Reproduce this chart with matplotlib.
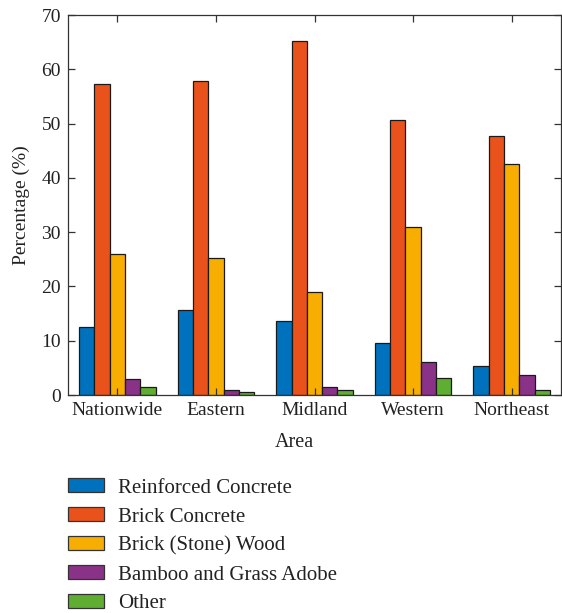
import matplotlib
matplotlib.use("Agg")
import matplotlib.pyplot as plt
import numpy as np
from matplotlib.patches import Patch

categories = ["Nationwide", "Eastern", "Midland", "Western", "Northeast"]
series_names = ["Reinforced Concrete", "Brick Concrete", "Brick (Stone) Wood",
                "Bamboo and Grass Adobe", "Other"]
reinforced_concrete = [12.6, 15.7, 13.6, 9.5, 5.3]
brick_concrete = [57.2, 57.9, 65.3, 50.6, 47.8]
brick_stone_wood = [26.0, 25.2, 18.9, 30.9, 42.5]
bamboo_grass_adobe = [2.9, 1.0, 1.5, 6.0, 3.6]
other = [1.5, 0.5, 0.9, 3.1, 0.9]
series = [reinforced_concrete, brick_concrete, brick_stone_wood, bamboo_grass_adobe, other]
colors = ["#0071BC", "#E9531B", "#F7AE00", "#8A3188", "#5FAE32"]

plt.rcParams['font.family'] = ['Liberation Serif', 'DejaVu Serif']
fig = plt.figure(figsize=(5.62, 6.13), dpi=100)
ax = fig.add_axes([68/562, 1-395/613, (561-68)/562, (395-15)/613])

x = np.arange(1, len(categories)+1)
bw = 0.155
for i, (vals, c) in enumerate(zip(series, colors)):
    ax.bar(x + (i-2)*bw, vals, width=bw, color=c, edgecolor="#1a1a1a", linewidth=0.9)

ax.set_xlim(0.5, 5.5)
ax.set_ylim(0, 70)
ax.set_xticks(x)
ax.set_xticklabels(categories)
ax.set_yticks(np.arange(0, 71, 10))
ax.tick_params(direction="in", length=5, width=0.9, top=True, right=True,
               labelsize=14, colors="#333333", labelcolor="#222222", pad=5)
for s in ax.spines.values():
    s.set_color("#333333")
    s.set_linewidth(0.9)
ax.set_xlabel("Area", fontsize=14.5, color="#222222")
ax.xaxis.set_label_coords((294-68)/(561-68), -0.1)
ax.set_ylabel("Percentage (%)", fontsize=14, color="#222222", labelpad=8)

handles = [Patch(facecolor=c, edgecolor="#333333", linewidth=0.9) for c in colors]
fig.legend(handles, series_names, loc="upper left", bbox_to_anchor=(68/562, 1-478.5/613),
           frameon=False, fontsize=15, handlelength=1.73, handleheight=0.63,
           handletextpad=0.67, labelspacing=0.47, borderpad=0, borderaxespad=0,
           labelcolor="#222222")

fig.savefig("out.png", dpi=100)
